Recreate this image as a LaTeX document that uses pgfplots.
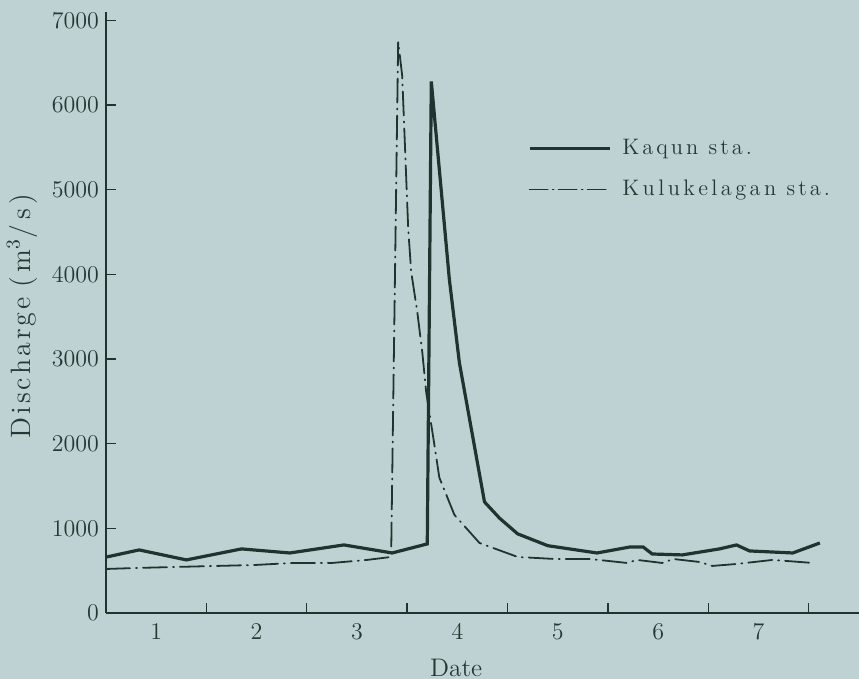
\documentclass[border=0pt]{standalone}
\usepackage{fontspec}
\usepackage{pgfplots}
\pgfplotsset{compat=1.18}
\definecolor{bg}{RGB}{191,210,211}
\definecolor{ink}{RGB}{30,52,46}
\definecolor{txt}{RGB}{38,56,52}
\makeatletter
\newcommand\ls[2]{\@tfor\@ch:=#2\do{\@ch\kern#1}\unkern}
\makeatother
\begin{document}
\begin{tikzpicture}
\fill[bg] (-53pt,-33pt) rectangle (376.5pt,306.5pt);
\begin{axis}[
  scale only axis, width=376.5pt, height=300.5pt,
  xmin=0.5, xmax=8.0, ymin=0, ymax=7100,
  axis x line=bottom, axis y line=left,
  axis line style={-, draw=ink, line width=0.7pt},
  tick align=inside,
  major tick length=5pt,
  tick style={draw=ink, line width=0.7pt},
  ytick={0,1000,...,7000},
  /pgf/number format/1000 sep={},
  xtick={1.5,2.5,3.5,4.5,5.5,6.5,7.5},
  xticklabel=\empty,
  extra x ticks={1,2,3,4,5,6,7},
  extra x tick style={major tick length=0pt, xticklabel={\pgfmathprintnumber{\tick}}},
  tick label style={font=\fontsize{11.5}{13}\selectfont, text=txt},
  xticklabel style={yshift=-2pt},
  xlabel={Date},
  xlabel style={at={(axis description cs:0.465,0)}, anchor=center, yshift=-27.5pt, font=\fontsize{12.7}{15}\selectfont, text=txt},
  ylabel={\ls{1.5pt}{Discharge}\hspace{5pt}(\,m\textsuperscript{3}/\,s\,)},
  ylabel style={at={(axis description cs:-0.1116,0.494)}, anchor=center, font=\fontsize{14}{16}\selectfont, text=txt},
  legend cell align=left,
  legend style={draw=none, fill=none, at={(rel axis cs:0.552,0.802)}, anchor=north west,
    font=\fontsize{11.2}{13}\selectfont, text=txt, row sep=7.3pt},
  legend image code/.code={\draw[#1] (0pt,0pt) -- (40pt,0pt);},
]
\addplot[ink, line width=1.6pt] coordinates {
(0.5,660) (0.83,745) (1.30,627) (1.85,757) (2.33,709) (2.87,804) (3.35,709) (3.70,816)
(3.74,6280) (3.92,3940) (4.02,2955) (4.27,1312) (4.42,1120) (4.60,935) (4.90,795)
(5.39,709) (5.72,780) (5.85,780) (5.94,697) (6.24,686) (6.61,757) (6.78,804) (6.91,733)
(7.34,709) (7.61,827)
};
\addlegendentry{\hspace{3.5pt}\ls{1.5pt}{Kaqun}\hspace{5.2pt}\ls{1.5pt}{sta.}}
\addplot[forget plot, ink, line width=0.9pt, line cap=round, dash pattern=on 12pt off 3pt on 0.5pt off 3pt] coordinates {
(0.5,520) (0.81,532) (1.20,544) (1.98,567) (2.36,591) (2.75,591) (3.10,627) (3.34,662)
(3.41,6750) (3.45,6350) (3.48,5450) (3.51,4540) (3.54,4030) (3.60,3560) (3.65,3085)
(3.69,2600) (3.76,2070) (3.82,1600) (3.97,1160) (4.22,827) (4.60,662) (4.97,638)
(5.32,638) (5.69,591) (5.79,627) (6.04,591) (6.15,638) (6.41,603) (6.54,556) (6.78,579)
(7.14,627) (7.54,591)
};
\addlegendimage{ink, line width=0.9pt, line cap=round, dash pattern=on 9pt off 2.5pt on 0.5pt off 2.5pt}
\addlegendentry{\hspace{3.5pt}\ls{1.7pt}{Kulukelagan}\hspace{5.2pt}\ls{1.5pt}{sta.}}
\end{axis}
\pgfresetboundingbox
\useasboundingbox (-53pt,-33pt) rectangle (376.5pt,306.5pt);
\end{tikzpicture}
\end{document}
